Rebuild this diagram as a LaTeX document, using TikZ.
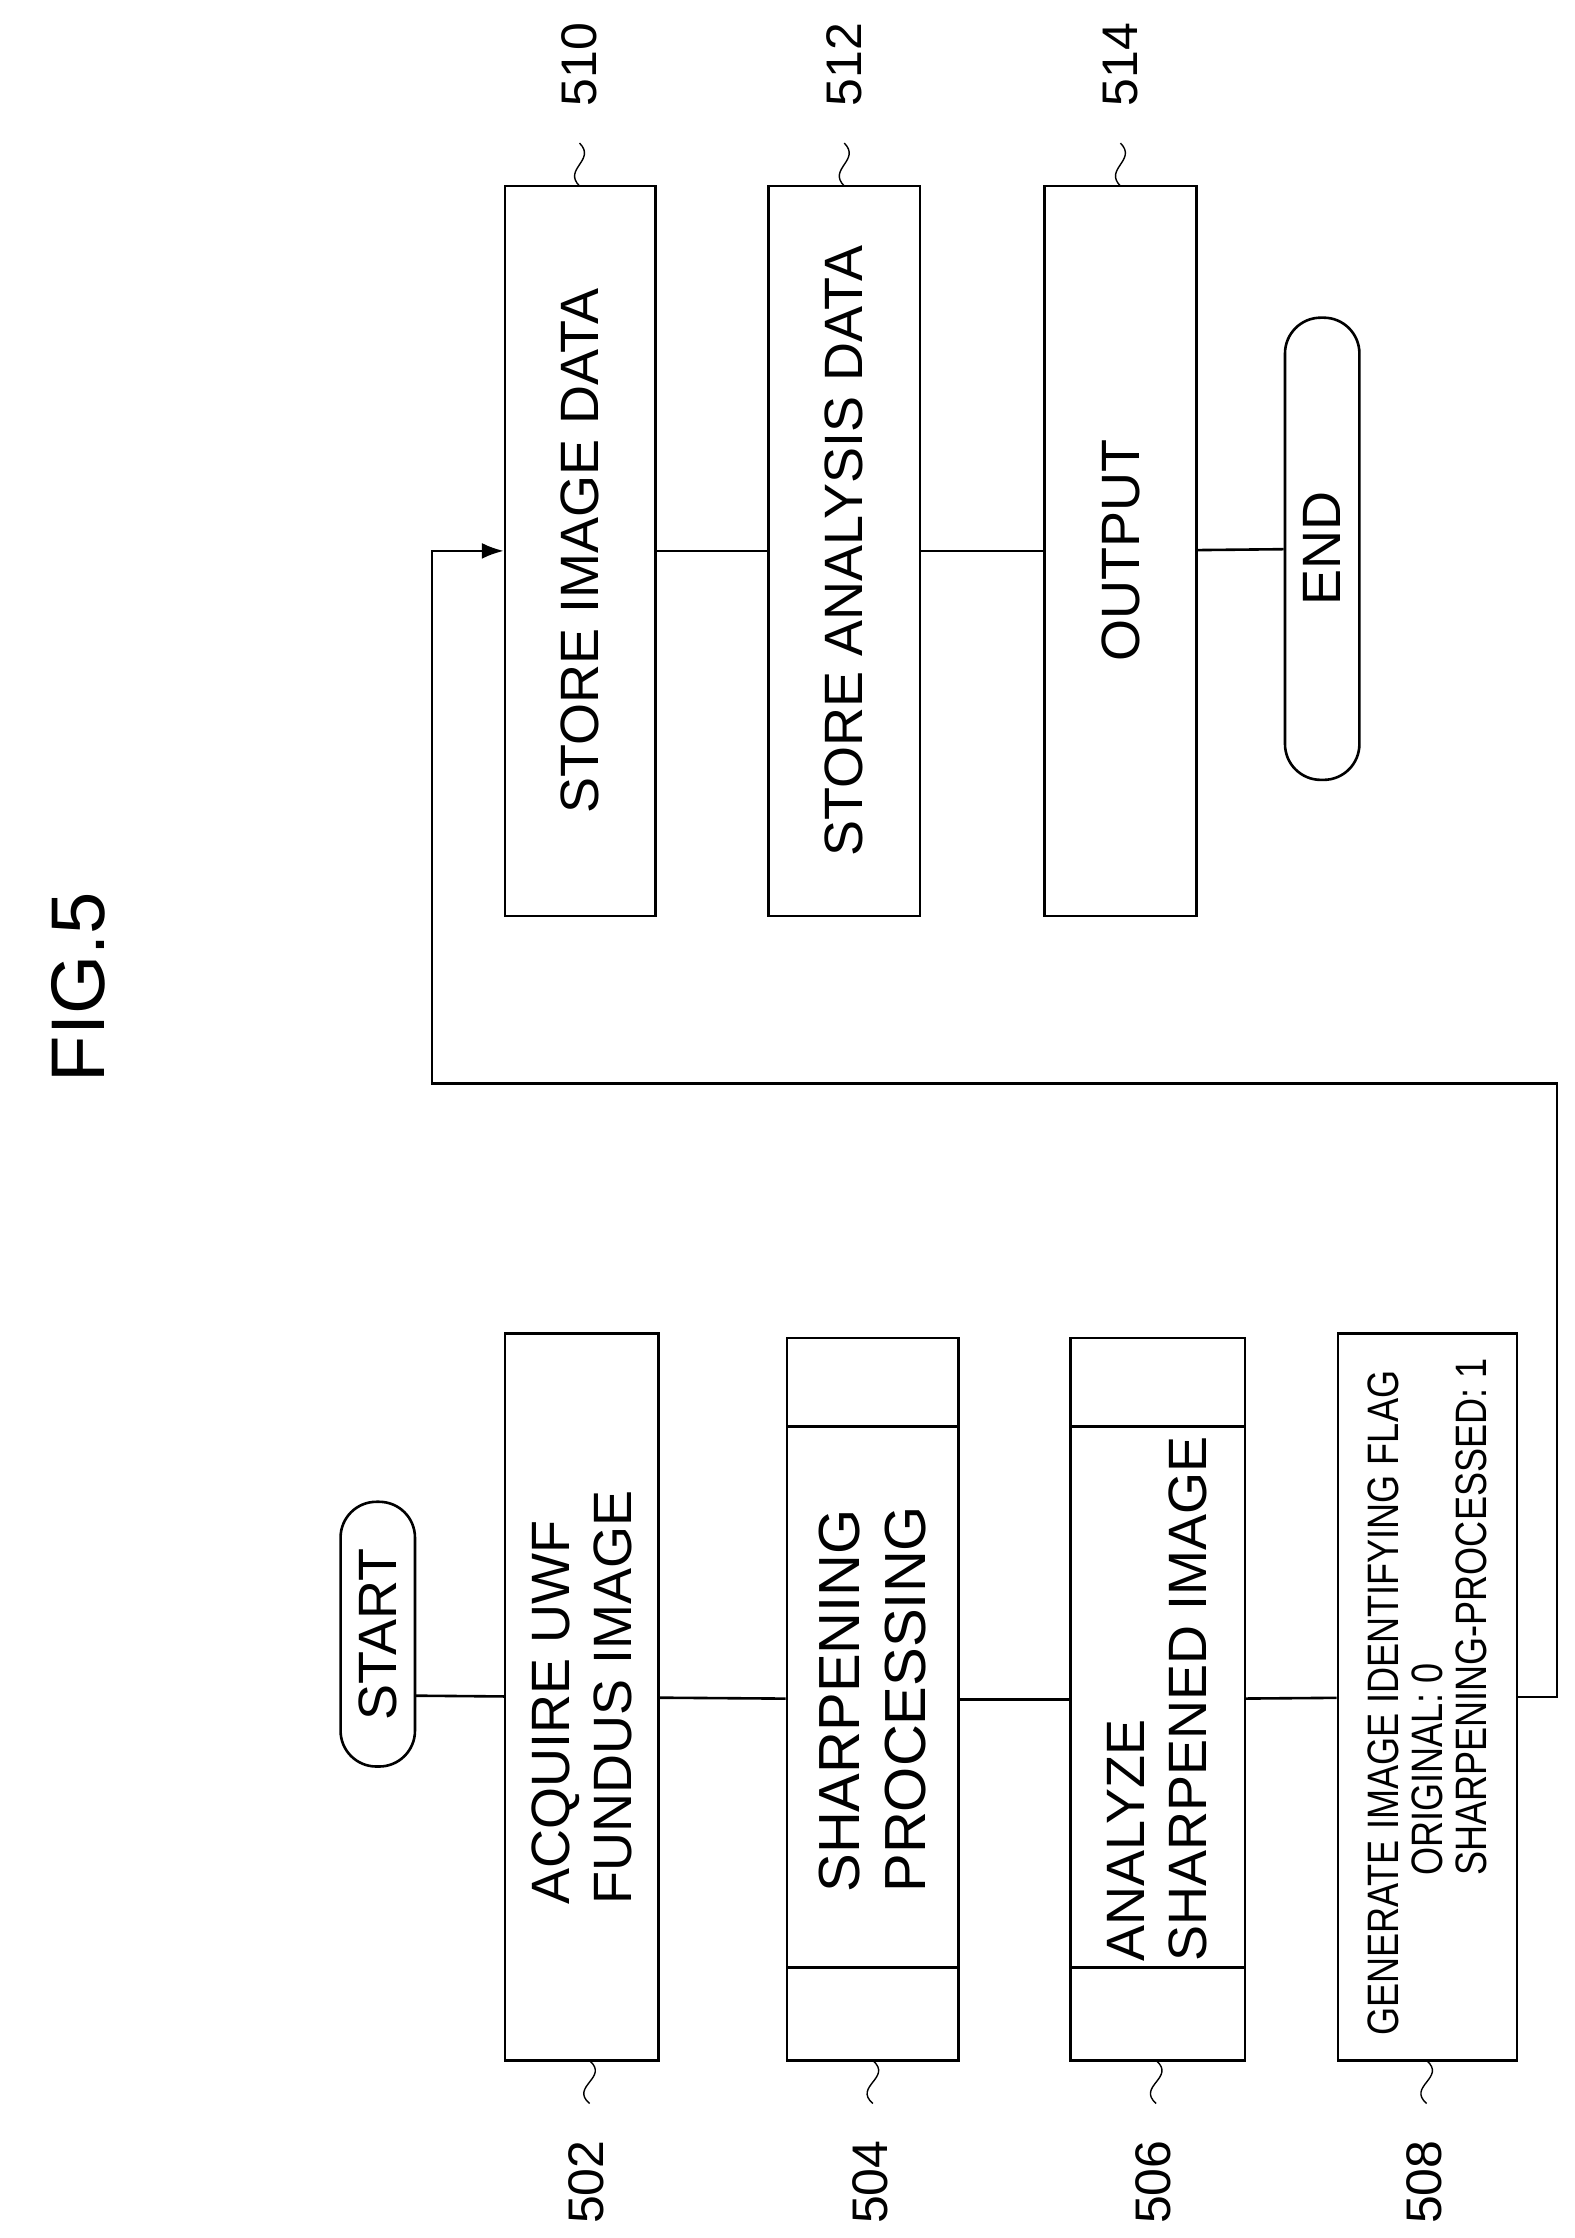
\documentclass[tikz,border=0pt]{standalone}
\usepackage{fontspec}
\setmainfont{Liberation Sans}
\usetikzlibrary{arrows.meta}
\def\U{0.7155pt}
\begin{document}
\begin{tikzpicture}[x=0.7155pt,y=-0.7155pt,line width=1.3pt,
  box/.style={draw,rectangle,rotate=90,align=left,inner sep=0pt,font=\fontsize{27}{31}\selectfont},
  term/.style={draw,rectangle,rounded corners=25*\U,rotate=90,inner sep=0pt,font=\fontsize{27}{31}\selectfont},
  lab/.style={rotate=90,font=\fontsize{25}{28}\selectfont},
  tl/.style={line width=0.7pt}]
\fill[white] (0,0) rectangle (1100,1564);
\useasboundingbox (0,0) rectangle (1100,1564);
\node[rotate=90,font=\fontsize{38}{42}\selectfont] (fig) at (55,690) {FIG.5};
% left column
\node[term,minimum width=185*\U,minimum height=52*\U] (start) at (264,1142) {START};
\node[box,minimum width=508*\U,minimum height=107*\U] (b502) at (406.5,1186) {ACQUIRE UWF\\FUNDUS IMAGE};
\node[box,minimum width=505*\U,minimum height=120*\U,font=\fontsize{29}{33}\selectfont] (b504) at (610,1187.5) {SHARPENING\\PROCESSING};
\node[box,minimum width=505*\U,minimum height=122*\U] (b506) at (809,1187.5) {ANALYZE\\SHARPENED IMAGE};
\node[box,minimum width=508*\U,minimum height=125*\U,font=\fontsize{22}{22}\selectfont] (b508) at (997.5,1186) {\scalebox{0.82}[1]{GENERATE IMAGE IDENTIFYING FLAG}\\\hspace*{80pt}\scalebox{0.82}[1]{ORIGINAL: 0}\\\hspace*{80pt}\scalebox{0.82}[1]{SHARPENING-PROCESSED: 1}};
\draw (550,997) -- (670,997) (550,1375) -- (670,1375);
\draw (748,997) -- (870,997) (748,1375) -- (870,1375);
% right column
\node[box,minimum width=510*\U,minimum height=105*\U] (b510) at (405.5,385) {STORE IMAGE DATA};
\node[box,minimum width=510*\U,minimum height=106*\U] (b512) at (590,385) {STORE ANALYSIS DATA};
\node[box,minimum width=510*\U,minimum height=106*\U] (b514) at (783,385) {OUTPUT};
\node[term,minimum width=323*\U,minimum height=52*\U] (end) at (924,383.5) {END};
% connectors
\coordinate (s1) at (290,1185);
\draw (s1) -- (b502);
\draw (b502) -- (b504);
\draw (b504) -- (b506);
\draw (b506) -- (b508);
\coordinate (c1) at (1088,1186);
\coordinate (c2) at (1088,757);
\coordinate (c3) at (302,757);
\draw[-{Latex[length=11pt,width=8pt]}] (b508.south) -- (c1) -- (c2) -- (c3) |- (b510.north);
\draw (b510) -- (b512);
\draw (b512) -- (b514);
\draw (b514) -- (end);
% labels
\foreach \x/\n in {410/502,608/504,806/506,995/508}{
  \draw[tl] (\x+2,1440) .. controls (\x+16,1452) and (\x-12,1458) .. (\x+2,1470);
  \node[lab] (l\n) at (\x,1525) {\n};
}
\foreach \x/\n in {405/510,590/512,783/514}{
  \draw[tl] (\x,130) .. controls (\x-12,118) and (\x+12,112) .. (\x,100);
  \node[lab] (l\n) at (\x,45) {\n};
}
\end{tikzpicture}
\end{document}
